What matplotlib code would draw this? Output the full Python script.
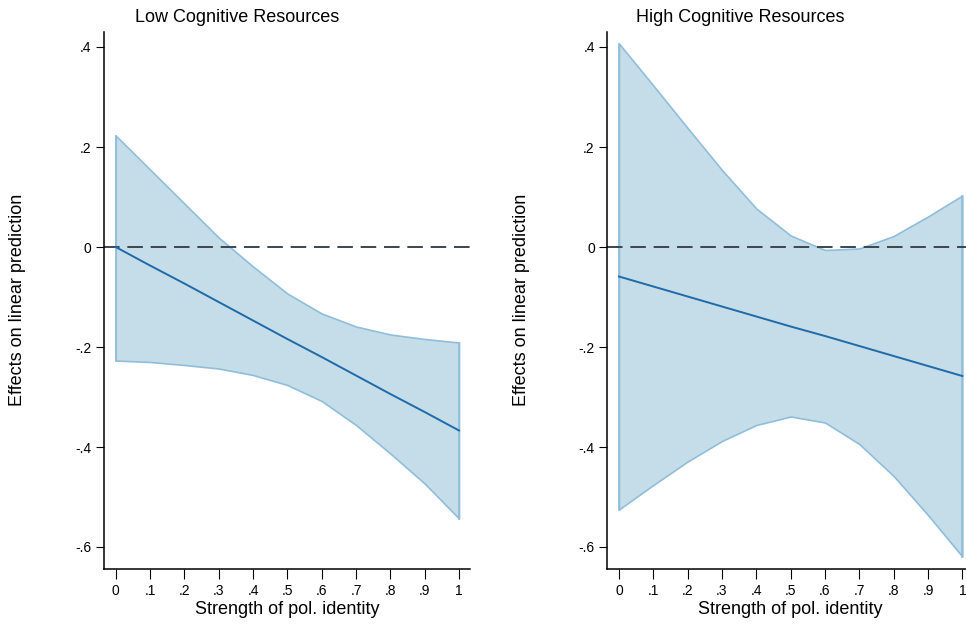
import numpy as np
import matplotlib
matplotlib.use("Agg")
import matplotlib.pyplot as plt

plt.rcParams['font.family'] = ['Liberation Sans Narrow', 'Liberation Sans', 'DejaVu Sans']

# Strength of political identity (x values)
strength = [0.0, 0.1, 0.2, 0.3, 0.4, 0.5, 0.6, 0.7, 0.8, 0.9, 1.0]

# Low cognitive resources panel
low_effect = [0.0, -0.037, -0.073, -0.110, -0.147, -0.184, -0.220, -0.257, -0.294, -0.330, -0.367]
low_upper = [0.223, 0.155, 0.087, 0.019, -0.039, -0.093, -0.133, -0.159, -0.175, -0.184, -0.191]
low_lower = [-0.227, -0.230, -0.236, -0.243, -0.256, -0.276, -0.308, -0.356, -0.413, -0.473, -0.543]

# High cognitive resources panel
high_effect = [-0.059, -0.079, -0.099, -0.119, -0.139, -0.159, -0.178, -0.198, -0.218, -0.238, -0.258]
high_upper = [0.407, 0.323, 0.238, 0.154, 0.077, 0.023, -0.006, -0.003, 0.022, 0.061, 0.103]
high_lower = [-0.525, -0.476, -0.429, -0.388, -0.356, -0.339, -0.351, -0.394, -0.458, -0.536, -0.619]

x_ticks = [0, 0.1, 0.2, 0.3, 0.4, 0.5, 0.6, 0.7, 0.8, 0.9, 1.0]
x_tick_labels = ['0', '.1', '.2', '.3', '.4', '.5', '.6', '.7', '.8', '.9', '1']
y_ticks = [-0.6, -0.4, -0.2, 0.0, 0.2, 0.4]
y_tick_labels = ['-.6', '-.4', '-.2', '0', '.2', '.4']

titles = ['Low Cognitive Resources', 'High Cognitive Resources']

FILL = '#c5dde9'
EDGE = '#8fbedb'
LINE = '#1f6aa8'
DASH = '#3a4650'

W, H = 966, 628
fig = plt.figure(figsize=(W / 100, H / 100), dpi=100)


def px_axes(left, top, right, bottom):
    return fig.add_axes([left / W, 1 - bottom / H, (right - left) / W, (bottom - top) / H])


def draw_panel(ax, effect, upper, lower):
    ax.fill_between(strength, lower, upper, facecolor=FILL, edgecolor=EDGE, linewidth=1.2, zorder=1)
    ax.plot([strength[0], strength[0]], [lower[0], upper[0]], color=EDGE, lw=1.2, zorder=1)
    ax.plot([strength[-1], strength[-1]], [lower[-1], upper[-1]], color=EDGE, lw=1.2, zorder=1)
    ax.plot(strength, effect, color=LINE, lw=1.4, zorder=3)
    ax.axhline(0, color=DASH, lw=1.4, dashes=(8, 4), zorder=2)
    ax.set_xlim(-0.034, 1.032)
    ax.set_ylim(-0.644, 0.43)
    ax.set_xticks(x_ticks)
    ax.set_xticklabels(x_tick_labels)
    ax.set_yticks(y_ticks)
    ax.set_yticklabels(y_tick_labels)
    ax.tick_params(direction='out', width=0.8, labelsize=10)
    ax.tick_params(axis='y', length=6, pad=3)
    ax.tick_params(axis='x', length=7, pad=4)
    for s in ['top', 'right']:
        ax.spines[s].set_visible(False)
    for s in ['left', 'bottom']:
        ax.spines[s].set_linewidth(1.1)
    ax.patch.set_alpha(0)


ax1 = px_axes(104, 32, 470, 569)
draw_panel(ax1, low_effect, low_upper, low_lower)
ax2 = px_axes(607.3, 32, 973.3, 569)
draw_panel(ax2, high_effect, high_upper, high_lower)

# titles and axis labels placed like the Stata graph regions
fig.text(237 / W, 1 - 17 / H, titles[0], ha='center', va='center', fontsize=13)
fig.text(740 / W, 1 - 17 / H, titles[1], ha='center', va='center', fontsize=13)
for cx in [287, 790]:
    fig.text(cx / W, 1 - 609 / H, 'Strength of pol. identity', ha='center', va='center', fontsize=13)
for cx in [18, 522]:
    fig.text(cx / W, 1 - 300 / H, 'Effects on linear prediction', ha='center', va='center',
             rotation=90, fontsize=13)

fig.savefig('out.png', dpi=100)
